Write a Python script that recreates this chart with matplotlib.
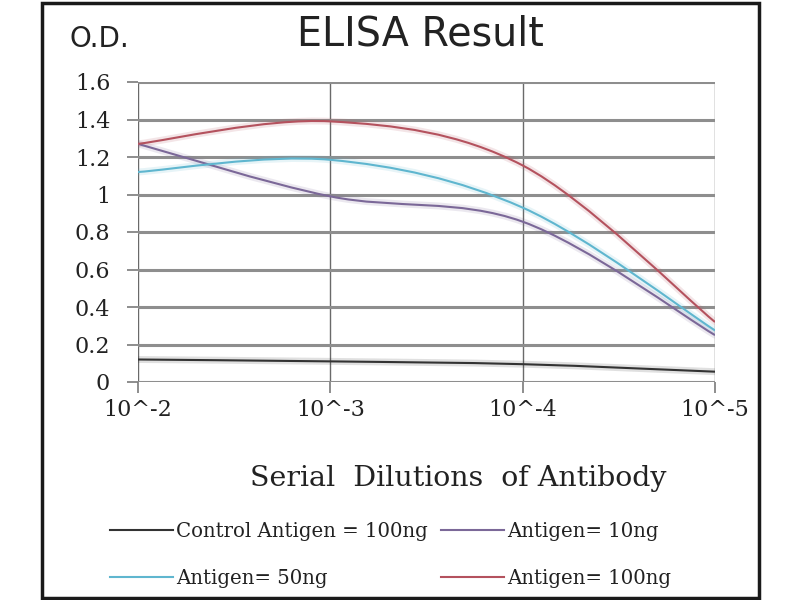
import matplotlib
matplotlib.use("Agg")
import matplotlib.pyplot as plt
import numpy as np
from matplotlib.path import Path
from matplotlib.patches import PathPatch, Rectangle
from matplotlib.lines import Line2D

# data
dilutions = ["10^-2", "10^-3", "10^-4", "10^-5"]
control_100 = [0.12, 0.11, 0.095, 0.055]
antigen_10 = [1.27, 0.99, 0.855, 0.25]
antigen_50 = [1.12, 1.185, 0.93, 0.275]
antigen_100 = [1.27, 1.39, 1.155, 0.32]
yticks = [0, 0.2, 0.4, 0.6, 0.8, 1, 1.2, 1.4, 1.6]
ytick_labels = ["0", "0.2", "0.4", "0.6", "0.8", "1", "1.2", "1.4", "1.6"]

series = [
    ("Control Antigen = 100ng", control_100, "#333333"),
    ("Antigen= 10ng", antigen_10, "#7b6898"),
    ("Antigen= 50ng", antigen_50, "#5fb6cf"),
    ("Antigen= 100ng", antigen_100, "#b4525e"),
]

serif = ["DejaVu Serif"]
sans = ["DejaVu Sans"]


def smooth_path(xs, ys):
    # excel-style smoothed line: bezier segments through the points
    pts = np.column_stack([xs, ys]).astype(float)
    n = len(pts)
    verts = [pts[0]]
    codes = [Path.MOVETO]
    for i in range(n - 1):
        p0 = pts[max(i - 1, 0)]
        p1 = pts[i]
        p2 = pts[i + 1]
        p3 = pts[min(i + 2, n - 1)]
        c1 = p1 + (p2 - p0) / 6.0
        c2 = p2 - (p3 - p1) / 6.0
        verts += [c1, c2, p2]
        codes += [Path.CURVE4] * 3
    return Path(verts, codes)


fig = plt.figure(figsize=(8, 6), dpi=100)
ax = fig.add_axes([138 / 800, 1 - 382 / 600, 577 / 800, 300 / 600])

x = np.arange(len(dilutions))
handles = {}
for label, vals, color in series:
    halo = PathPatch(smooth_path(x, vals), facecolor="none", edgecolor=color,
                     lw=5, alpha=0.15, capstyle="round", zorder=3)
    ax.add_patch(halo)
    line = PathPatch(smooth_path(x, vals), facecolor="none", edgecolor=color,
                     lw=1.5, zorder=4)
    ax.add_patch(line)
    handles[label] = Line2D([], [], color=color, lw=1.5)

ax.set_xlim(0, 3)
ax.set_ylim(0, 1.6)
ax.set_xticks(x)
ax.set_xticklabels(dilutions, fontsize=16, family=serif, color="#222222")
ax.set_yticks(yticks)
ax.set_yticklabels(ytick_labels, fontsize=16, family=serif, color="#222222")
ax.tick_params(axis="both", length=8, width=1.2, color="#7a7a7a")
ax.tick_params(axis="y", pad=12)
ax.tick_params(axis="x", pad=4)
ax.grid(axis="y", color="#8e8e8e", lw=2.2)
ax.grid(axis="x", color="#6a6a6a", lw=1.0)
for s in ax.spines.values():
    s.set_visible(False)
ax.set_axisbelow(True)

fig.text(0.526, 0.943, "ELISA Result", ha="center", va="center",
         fontsize=28.5, family=sans, color="#222222")
fig.text(0.087, 0.935, "O.D.", ha="left", va="center",
         fontsize=20, family=sans, color="#222222")
fig.text(0.5725, 0.203, "Serial  Dilutions  of Antibody", ha="center",
         va="center", fontsize=20.5, family=serif, color="#222222")

order = ["Control Antigen = 100ng", "Antigen= 50ng", "Antigen= 10ng",
         "Antigen= 100ng"]
fig.legend([handles[k] for k in order], order, ncol=2, frameon=False,
           loc="center left", bbox_to_anchor=(0.115, 0.075),
           prop={"family": serif, "size": 14.2}, handlelength=3.2,
           handletextpad=0.15, labelspacing=1.4, columnspacing=0.7,
           labelcolor="#222222")

# outer frame of the picture
fig.patches.append(Rectangle((42 / 800, 2 / 600), 717 / 800, 595 / 600,
                             transform=fig.transFigure, fill=False,
                             edgecolor="#1a1a1a", lw=2.5))

fig.savefig("out.png", dpi=100)
